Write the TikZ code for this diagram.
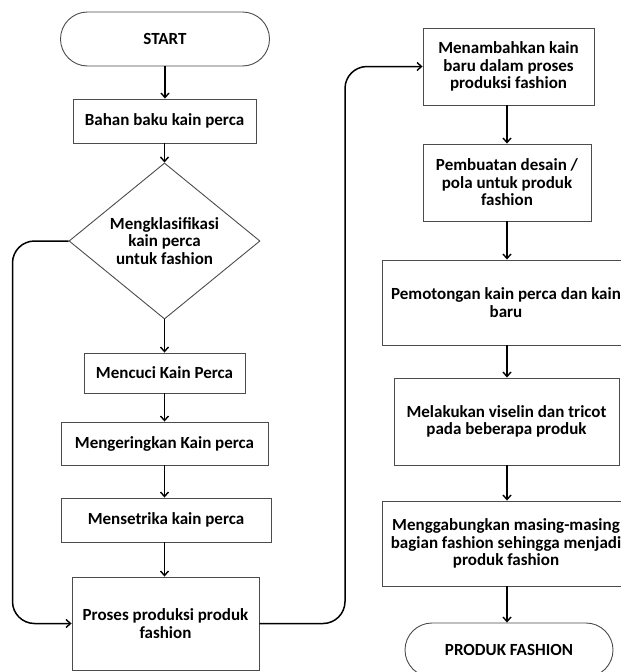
\documentclass[tikz,border=0pt]{standalone}
\usepackage{fontspec}
\setmainfont{Carlito}
\usetikzlibrary{arrows.meta,shapes.geometric}
\tikzset{
  box/.style={draw=black!70, line width=0.9pt, fill=white, align=center,
    inner sep=0pt, font=\fontsize{17}{17.5}\selectfont\bfseries},
  terminal/.style={box, rounded corners=27pt, minimum height=54pt},
  decision/.style={box, diamond, inner sep=0pt},
  flow/.style={draw=black, line width=1.5pt,
    -{Straight Barb[length=4.5pt,width=8pt,line width=1.4pt]}},
  loop/.style={flow, rounded corners=22pt}
}
\begin{document}
\begin{tikzpicture}[x=1pt,y=-1pt]
\useasboundingbox (0,0) rectangle (621,672);
\clip (0,0) rectangle (621,672);

% left column
\node[terminal, minimum width=209pt] (start) at (165,39) {START};
\node[box, minimum width=183pt, minimum height=44pt] (bahan) at (164.5,121) {Bahan baku kain perca};
\node[decision, minimum width=191pt, minimum height=150pt] (klas) at (164.5,241)
  {Mengklasifikasi\\kain perca\\untuk fashion};
\node[box, minimum width=161pt, minimum height=40pt] (cuci) at (164.5,373) {Mencuci Kain Perca};
\node[box, minimum width=207pt, minimum height=43pt] (kering) at (164.5,443.5) {Mengeringkan Kain perca};
\node[box, minimum width=210pt, minimum height=44pt] (setrika) at (166,520) {Mensetrika kain perca};
\node[box, minimum width=187pt, minimum height=93pt] (proses) at (165.5,623.5) {Proses produksi produk\\fashion};

% right column
\node[box, minimum width=171pt, minimum height=77pt] (tambah) at (508.5,66.5)
  {Menambahkan kain\\baru dalam proses\\produksi fashion};
\node[box, minimum width=168pt, minimum height=77pt] (desain) at (507,182.5)
  {Pembuatan desain /\\pola untuk produk\\fashion};
\node[box, minimum width=248pt, minimum height=85pt] (potong) at (506,302.5)
  {Pemotongan kain perca dan kain\\baru};
\node[box, minimum width=225pt, minimum height=87pt] (lakukan) at (506.5,421.5)
  {Melakukan viselin dan tricot\\pada beberapa produk};
\node[box, minimum width=248pt, minimum height=85pt] (gabung) at (506,543.5)
  {Menggabungkan masing-masing\\bagian fashion sehingga menjadi\\produk fashion};
\node[terminal, minimum width=208pt] (produk) at (509,650) {PRODUK FASHION};

% straight connectors, left column
\draw[flow] (start.south) -- (start.south |- bahan.north);
\draw[flow] (bahan.south) -- (bahan.south |- klas.north);
\draw[flow] (klas.south) -- (klas.south |- cuci.north);
\draw[flow] (cuci.south) -- (cuci.south |- kering.north);
\draw[flow] (kering.south) -- (kering.south |- setrika.north);
\draw[flow] (setrika.south -| cuci.south) -- (cuci.south |- proses.north);

% straight connectors, right column
\draw[flow] (tambah.south -| desain.south) -- (desain.north);
\draw[flow] (desain.south) -- (desain.south |- potong.north);
\draw[flow] (desain.south |- potong.south) -- (desain.south |- lakukan.north);
\draw[flow] (desain.south |- lakukan.south) -- (desain.south |- gabung.north);
\draw[flow] (desain.south |- gabung.south) -- (desain.south |- produk.north);

% routed connectors
\coordinate (lb) at (12.5,0);
\draw[loop] (klas.west) -- (klas.west -| lb) -- (lb |- proses.west) -- (proses.west);
\coordinate (rb) at (345,0);
\draw[loop] (proses.east) -- (proses.east -| rb) -- (rb |- tambah.west) -- (tambah.west);
\end{tikzpicture}
\end{document}
